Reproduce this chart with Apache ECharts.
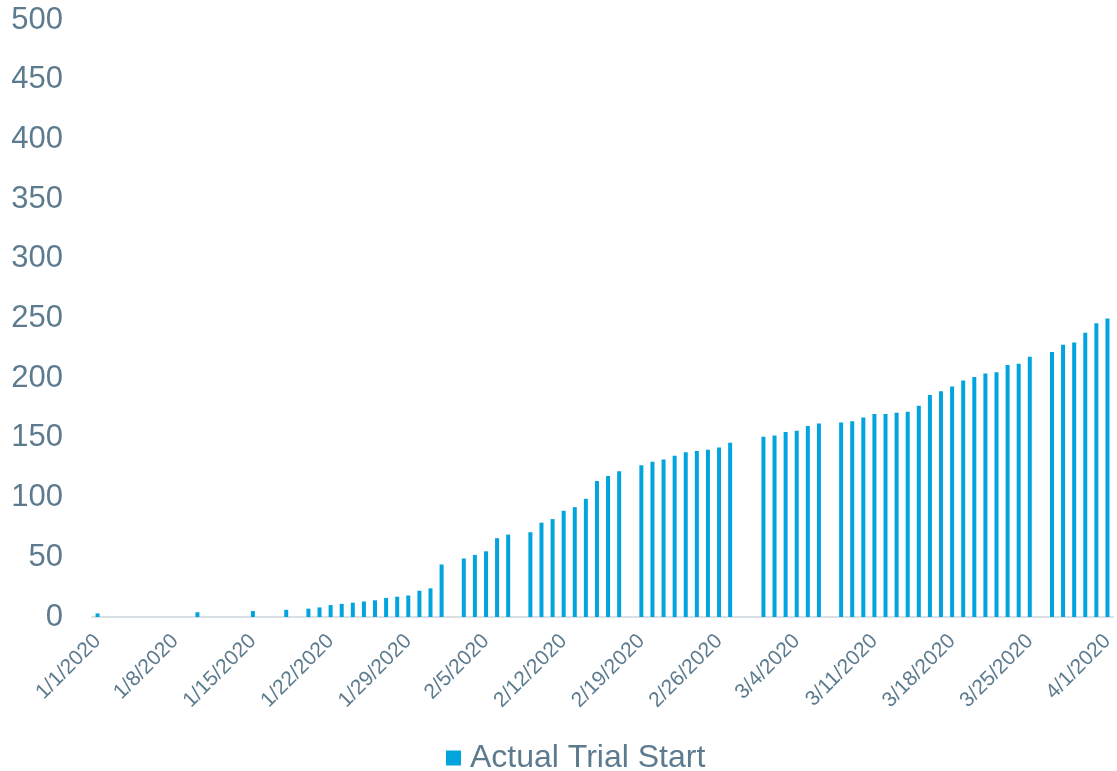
<!DOCTYPE html>
<html>
<head>
<meta charset="utf-8">
<script src="https://cdn.jsdelivr.net/npm/echarts@6/dist/echarts.min.js"></script>
<style>
  html, body { margin: 0; padding: 0; background: #ffffff; }
  #chart { width: 1117px; height: 771px; }
</style>
</head>
<body>
<div id="chart"></div>
<script>
// Daily dates from 1/1/2020 through 4/1/2020 (one category per day)
const startDate = new Date(2020, 0, 1);
const dayCount = 92;
const categories = [];
for (let i = 0; i < dayCount; i++) {
  const d = new Date(startDate.getFullYear(), startDate.getMonth(), startDate.getDate() + i);
  categories.push((d.getMonth() + 1) + '/' + d.getDate() + '/' + d.getFullYear());
}

// Cumulative count of trials started, one entry per day (null = no record that day)
const janValues = [
  3, null, null, null, null, null, null, null, null, 4,
  null, null, null, null, 5, null, null, 6, null, 7,
  8, 10, 11, 12, 13, 14, 16, 17, 18, 22,
  24
];
const febValues = [
  44, null, 49, 52, 55, 66, 69, null, 71, 79,
  82, 89, 92, 99, 114, 118, 122, null, 127, 130,
  132, 135, 138, 139, 140, 142, 146, null, null
];
const marValues = [
  151, 152, 155, 156, 160, 162, null, 163, 164, 167,
  170, 170, 171, 172, 177, 186, 189, 193, 198, 201,
  204, 205, 211, 212, 218, null, 222, 228, 230, 238,
  246
];
const aprValues = [250];
const trialStarts = janValues.concat(febValues, marValues, aprValues);

const seriesName = 'Actual Trial Start';
const yTicks = { min: 0, max: 500, interval: 50 };

const textColor = '#5d7b8f';
const barColor = '#02a4de';
const fontFamily = "'Liberation Sans', Arial, sans-serif";

const chart = echarts.init(document.getElementById('chart'), null, { renderer: 'canvas' });
chart.setOption({
  animation: false,
  backgroundColor: '#ffffff',
  grid: { left: 92, right: 0, top: 20, bottom: 154, containLabel: false },
  legend: {
    data: [{ name: seriesName, icon: 'rect' }],
    left: 441,
    top: 737,
    itemWidth: 15,
    itemHeight: 15,
    textStyle: { color: textColor, fontSize: 32, fontFamily: fontFamily, padding: [0, 0, 0, 4] }
  },
  xAxis: {
    type: 'category',
    data: categories,
    boundaryGap: true,
    axisLine: { show: true, lineStyle: { color: '#dadfe4', width: 2 } },
    axisTick: { show: false },
    axisLabel: {
      interval: 6,
      rotate: 45,
      margin: 21,
      color: textColor,
      fontSize: 21,
      fontFamily: fontFamily
    },
    splitLine: { show: false }
  },
  yAxis: {
    type: 'value',
    min: yTicks.min,
    max: yTicks.max,
    interval: yTicks.interval,
    axisLine: { show: false },
    axisTick: { show: false },
    splitLine: { show: false },
    axisLabel: { margin: 29, color: textColor, fontSize: 31, fontFamily: fontFamily }
  },
  series: [{
    name: seriesName,
    type: 'bar',
    data: trialStarts,
    barWidth: 4,
    itemStyle: { color: barColor }
  }]
});
</script>
</body>
</html>
